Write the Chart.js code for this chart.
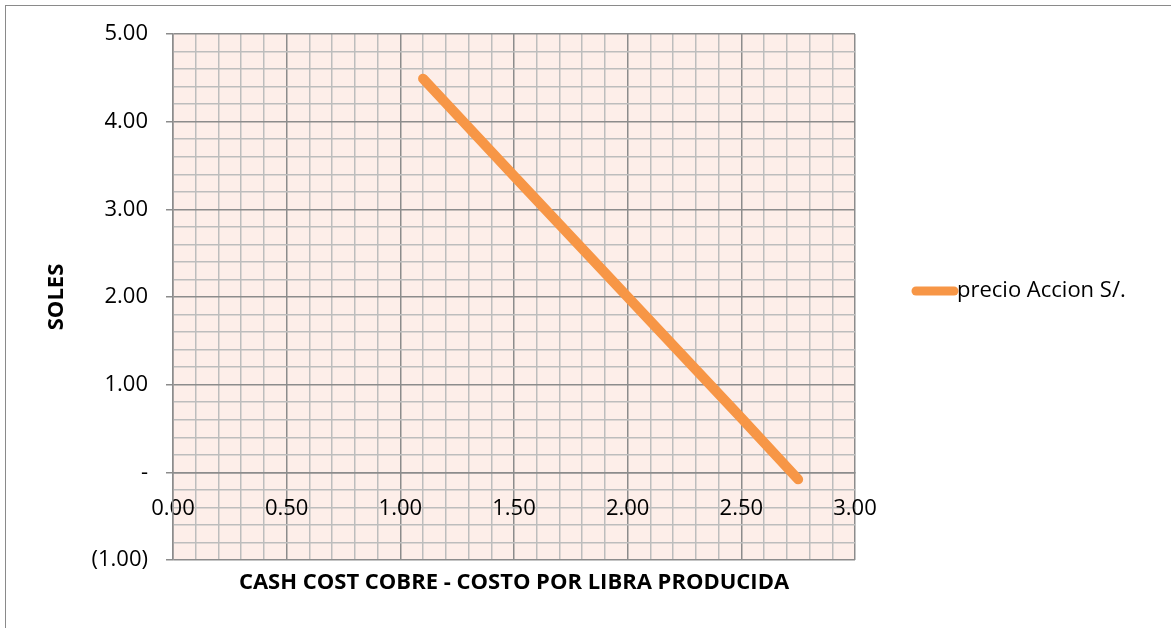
<!DOCTYPE html>
<html>
<head>
<meta charset="utf-8">
<script src="https://cdn.jsdelivr.net/npm/chart.js@4.4.1/dist/chart.umd.min.js"></script>
<style>
  html, body { margin: 0; padding: 0; background: #fff; }
  #wrap { width: 1171px; height: 628px; }
</style>
</head>
<body>
<div id="wrap"><canvas id="grafico"></canvas></div>
<script>
// datos
const costoPorLibra = [1.10, 1.50, 2.00, 2.50, 2.75];
const precioAccion = [4.49, 3.38, 2.00, 0.62, -0.08];
const serieNombre = "precio Accion S/.";
const tituloX = "CASH COST COBRE - COSTO POR LIBRA PRODUCIDA";
const tituloY = "SOLES";

const fuente = "'Open Sans', 'Noto Sans', sans-serif";
const naranja = "#F79646";

const esMultiplo = (v, paso) => Math.abs(v / paso - Math.round(v / paso)) < 1e-6;

const formatoSoles = (v) => {
    if (Math.abs(v) < 1e-6) return "-";
    if (v < 0) return "(" + Math.abs(v).toFixed(2) + ")";
    return v.toFixed(2);
};

const fondoYTextos = {
    id: "fondoYTextos",
    beforeDraw(chart) {
        const { ctx, chartArea } = chart;
        ctx.save();
        ctx.fillStyle = "#fdeee9";
        ctx.fillRect(chartArea.left, chartArea.top, chartArea.right - chartArea.left, chartArea.bottom - chartArea.top);
        ctx.strokeStyle = "#8a8a8a";
        ctx.lineWidth = 1;
        ctx.strokeRect(5.5, 5.5, 1400, 1400);
        ctx.restore();
    },
    afterDraw(chart) {
        const { ctx, chartArea } = chart;
        ctx.save();
        ctx.fillStyle = "#000";
        ctx.font = "bold 22px " + fuente;
        ctx.textAlign = "center";
        ctx.textBaseline = "middle";
        ctx.fillText(tituloX, (chartArea.left + chartArea.right) / 2, 583);
        ctx.translate(57, (chartArea.top + chartArea.bottom) / 2);
        ctx.rotate(-Math.PI / 2);
        ctx.fillText(tituloY, 0, 0);
        ctx.restore();

        // leyenda
        const ds = chart.data.datasets[0];
        ctx.save();
        ctx.strokeStyle = ds.borderColor;
        ctx.lineWidth = 9;
        ctx.lineCap = "round";
        ctx.beginPath();
        ctx.moveTo(916, 291);
        ctx.lineTo(954, 291);
        ctx.stroke();
        ctx.fillStyle = "#000";
        ctx.font = "22px " + fuente;
        ctx.textAlign = "left";
        ctx.textBaseline = "middle";
        ctx.fillText(ds.label, 957, 291);
        ctx.restore();
    }
};

const puntos = costoPorLibra.map((x, i) => ({ x: x, y: precioAccion[i] }));

new Chart(document.getElementById("grafico"), {
    type: "scatter",
    data: {
        datasets: [
            {
                label: serieNombre,
                data: puntos,
                showLine: true,
                borderColor: naranja,
                backgroundColor: naranja,
                borderWidth: 10,
                borderCapStyle: "round",
                borderJoinStyle: "round",
                pointRadius: 0,
                pointHoverRadius: 0,
            },
        ],
    },
    options: {
        responsive: true,
        maintainAspectRatio: false,
        animation: false,
        layout: { padding: { left: 0, top: 34, right: 316, bottom: 68 } },
        plugins: { legend: { display: false }, tooltip: { enabled: false } },
        scales: {
            x: {
                type: "linear",
                position: { y: 0 },
                min: 0,
                max: 3,
                ticks: {
                    stepSize: 0.1,
                    autoSkip: false,
                    maxRotation: 0,
                    padding: 23,
                    color: "#000",
                    font: { family: fuente, size: 22 },
                    callback: (v) => (esMultiplo(v, 0.5) ? v.toFixed(2) : ""),
                },
                grid: {
                    drawTicks: false,
                    color: (c) => (c.tick && esMultiplo(c.tick.value, 0.5) ? "#8c8c8c" : "#bdbdbd"),
                    lineWidth: 1.5,
                },
                border: { color: "#8c8c8c", width: 1.5 },
            },
            y: {
                type: "linear",
                min: -1,
                max: 5,
                afterFit: (scale) => { scale.width = 173; },
                ticks: {
                    stepSize: 0.2,
                    autoSkip: false,
                    padding: 18,
                    color: "#000",
                    font: { family: fuente, size: 22 },
                    callback: (v) => (esMultiplo(v, 1) ? formatoSoles(v) : ""),
                },
                grid: {
                    tickLength: 7,
                    color: (c) => (c.tick && esMultiplo(c.tick.value, 1) ? "#8c8c8c" : "#bdbdbd"),
                    tickColor: (c) => (c.tick && esMultiplo(c.tick.value, 1) ? "#8c8c8c" : "rgba(0,0,0,0)"),
                    lineWidth: 1.5,
                },
                border: { color: "#8c8c8c", width: 1.5 },
            },
        },
    },
    plugins: [fondoYTextos],
});
</script>
</body>
</html>
